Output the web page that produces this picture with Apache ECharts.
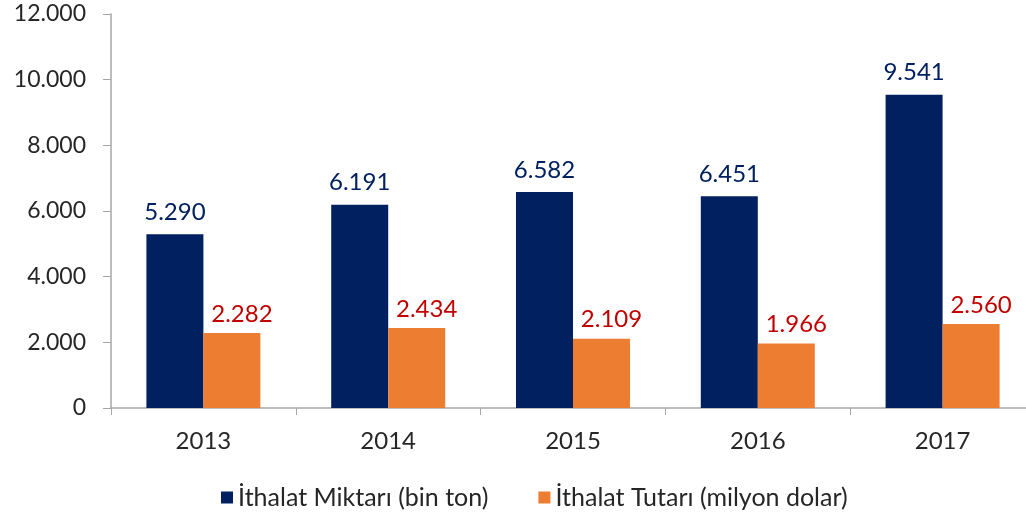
<!DOCTYPE html>
<html>
<head>
<meta charset="utf-8">
<script src="https://cdn.jsdelivr.net/npm/echarts@6/dist/echarts.min.js"></script>
<style>
html, body { margin: 0; padding: 0; background: #fff; }
#main { width: 1026px; height: 517px; }
</style>
</head>
<body>
<div id="main"></div>
<script>
var years = ['2013', '2014', '2015', '2016', '2017'];
var miktar = [5290, 6191, 6582, 6451, 9541];
var tutar = [2282, 2434, 2109, 1966, 2560];
var seriesNames = ['İthalat Miktarı (bin ton)', 'İthalat Tutarı (milyon dolar)'];

// binlik ayırıcı olarak nokta
function fmt(v) {
    return String(v).replace(/\B(?=(\d{3})+(?!\d))/g, '.');
}

var myChart = echarts.init(document.getElementById('main'));
var font = 'Lato, "Open Sans", sans-serif';

var option = {
    animation: false,
    textStyle: { fontFamily: font },
    grid: { left: 111, top: 14, width: 924, height: 394, containLabel: false, outerBoundsMode: 'none' },
    legend: {
        bottom: 2,
        left: 216,
        itemWidth: 12,
        itemHeight: 12,
        itemGap: 50,
        icon: 'rect',
        textStyle: { fontSize: 25, color: '#262626', fontFamily: font },
        data: seriesNames
    },
    xAxis: {
        type: 'category',
        data: years,
        axisLine: { lineStyle: { color: '#a6a6a6', width: 1.5 } },
        axisTick: { show: true, length: 7, lineStyle: { color: '#a6a6a6' } },
        axisLabel: { color: '#262626', fontSize: 24, margin: 21 }
    },
    yAxis: {
        type: 'value',
        min: 0,
        max: 12000,
        interval: 2000,
        splitLine: { show: false },
        axisLine: { show: true, lineStyle: { color: '#a6a6a6', width: 1.5 } },
        axisTick: { show: true, length: 8, lineStyle: { color: '#a6a6a6' } },
        axisLabel: { color: '#262626', fontSize: 23, margin: 25, formatter: fmt }
    },
    series: [{
        name: seriesNames[0],
        type: 'bar',
        data: miktar,
        barWidth: 57,
        barGap: '0%',
        itemStyle: { color: '#002060' },
        label: {
            show: true, position: 'top', distance: 10,
            color: '#002060', fontSize: 24,
            formatter: function (p) { return fmt(p.value); }
        }
    }, {
        name: seriesNames[1],
        type: 'bar',
        data: tutar,
        barWidth: 57,
        itemStyle: { color: '#ED7D31' },
        label: {
            show: true, position: 'top', distance: 7, offset: [10, 0],
            color: '#C00000', fontSize: 24,
            formatter: function (p) { return fmt(p.value); }
        }
    }]
};

myChart.setOption(option);
</script>
</body>
</html>
